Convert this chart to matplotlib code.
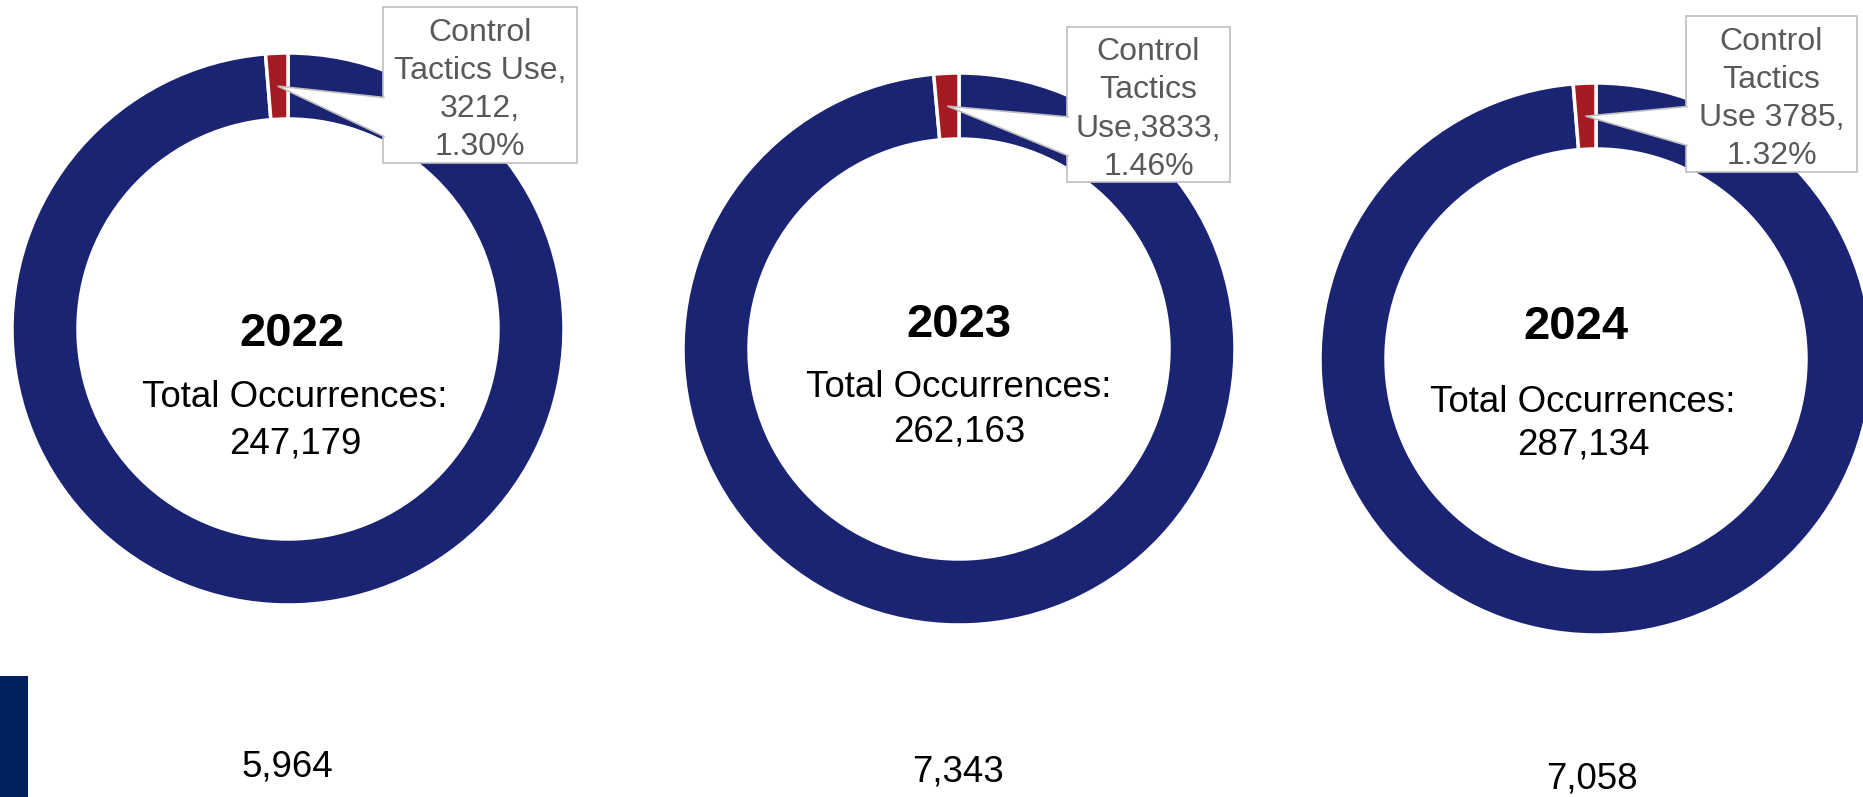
import numpy as np
import matplotlib.pyplot as plt
from matplotlib.patches import Rectangle, Polygon

plt.rcParams['font.family'] = ['Liberation Sans', 'DejaVu Sans']

# datos
years = ['2022', '2023', '2024']
totals = [247179, 262163, 287134]
control = [3212, 3833, 3785]
below_values = [5964, 7343, 7058]
callout_labels = ['Control\nTactics Use,\n3212,\n1.30%',
                  'Control\nTactics\nUse,3833,\n1.46%',
                  'Control\nTactics\nUse 3785,\n1.32%']

blue = '#1b2472'
red = '#a51b24'
gray_text = '#595959'

# layout en pixeles (y desde arriba)
W, H = 1863, 797
centers = [(288, 329), (959, 349), (1596, 359)]
radius = 276
ring = 66
year_pos = [(292, 334), (959, 325), (1576, 327)]
total_pos = [(295, 397), (959, 387), (1583, 402)]
num_pos = [(295, 444), (959, 432), (1583, 445)]
below_pos = [(287, 767), (958, 772), (1592, 779)]
boxes = [(383, 7, 194, 156), (1067, 27, 163, 155), (1686, 16, 171, 156)]


def fy(y):
    return H - y


fig = plt.figure(figsize=(W / 100, H / 100), dpi=100)
ax = fig.add_axes([0, 0, 1, 1])

for i in range(3):
    cx, cy = centers[i]
    rest = totals[i] - control[i]
    ax.pie([rest, control[i]], colors=[blue, red], startangle=90, counterclock=False,
           center=(cx, fy(cy)), radius=radius, frame=True,
           wedgeprops=dict(width=ring, edgecolor='white', linewidth=2.5))

    ax.text(year_pos[i][0], fy(year_pos[i][1]), years[i], ha='center', va='center',
            fontsize=34, fontweight='bold', color='black')
    ax.text(total_pos[i][0], fy(total_pos[i][1]), 'Total Occurrences:', ha='center',
            va='center', fontsize=26.4, color='black')
    ax.text(num_pos[i][0], fy(num_pos[i][1]), f'{totals[i]:,}', ha='center',
            va='center', fontsize=26.4, color='black')
    ax.text(below_pos[i][0], fy(below_pos[i][1]), f'{below_values[i]:,}', ha='center',
            va='center', fontsize=26.4, color='black')

    # caja del callout
    bx, by, bw, bh = boxes[i]
    ax.add_patch(Rectangle((bx, fy(by + bh)), bw, bh, facecolor='white',
                           edgecolor='#bfbfbf', linewidth=1.2, zorder=5))
    ax.text(bx + bw / 2, fy(by + bh / 2 + 5), callout_labels[i], ha='center', va='center',
            fontsize=23, color=gray_text, linespacing=1.35, zorder=7)

    # punta del callout en el centro de la cuna roja
    frac = control[i] / totals[i]
    ang = np.deg2rad(90 + frac * 360 / 2)
    rm = radius - ring / 2
    tip = (cx + rm * np.cos(ang), fy(cy) + rm * np.sin(ang))
    b1 = (bx + 1, fy(by + 0.58 * bh))
    b2 = (bx + 1, fy(by + 0.83 * bh))
    ax.add_patch(Polygon([tip, b1, b2], closed=True, facecolor='white',
                         edgecolor='none', zorder=6))
    ax.plot([b1[0], tip[0], b2[0]], [b1[1], tip[1], b2[1]], color='#bfbfbf',
            linewidth=1.2, zorder=6)

# barra azul oscura abajo a la izquierda
ax.add_patch(Rectangle((0, 0), 28, fy(676), facecolor='#002060', edgecolor='none'))

ax.set_xlim(0, W)
ax.set_ylim(0, H)
ax.set_aspect('equal')
ax.axis('off')

fig.savefig('out.png', dpi=100)
